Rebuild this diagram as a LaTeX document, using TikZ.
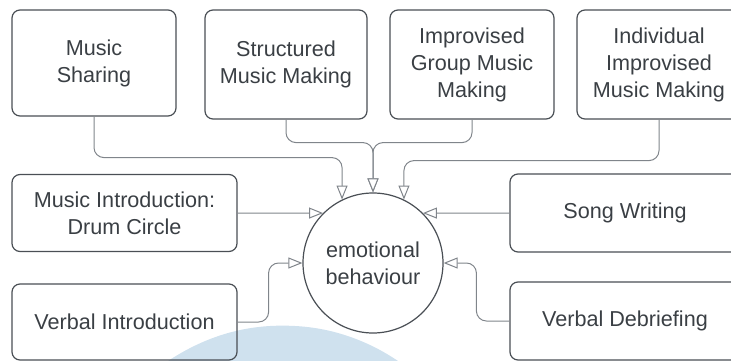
\documentclass[tikz,border=0pt]{standalone}
\usepackage{fontspec}
\setmainfont{Liberation Sans}
\usetikzlibrary{arrows.meta}
\definecolor{boxline}{HTML}{4A4F55}
\definecolor{linkline}{HTML}{80858B}
\definecolor{txt}{HTML}{3A3F44}
\definecolor{hill}{HTML}{CFE1EE}
\begin{document}
\begin{tikzpicture}[x=1pt,y=-1pt,
  box/.style={draw=boxline,line width=1.2pt,rounded corners=8pt,align=center,
    text=txt,font=\fontsize{21.6}{27}\selectfont,inner sep=0pt},
  link/.style={draw=linkline,line width=1pt,rounded corners=10pt,
    -{Triangle[open,length=14pt,width=11pt,fill=white]}}]
\useasboundingbox (0,0) rectangle (731,361);
% pale shape along the bottom
\fill[hill] (168,361) .. controls (215,330) and (258,324) .. (295,326)
  .. controls (335,328) and (370,342) .. (398,361) -- cycle;
% activities across the top
\node[box,minimum width=164pt,minimum height=106pt] (share) at (94,63) {Music\\Sharing};
\node[box,minimum width=162pt,minimum height=109pt] (struc) at (286,64.5) {Structured\\Music Making};
\node[box,minimum width=164pt,minimum height=109pt] (group) at (472,64.5) {Improvised\\Group Music\\Making};
\node[box,minimum width=164pt,minimum height=109pt] (indiv) at (659,64.5) {Individual\\Improvised\\Music Making};
% activities at the sides
\node[box,minimum width=225pt,minimum height=77pt] (drum) at (124.5,213) {Music Introduction:\\Drum Circle};
\node[box,minimum width=225pt,minimum height=76pt] (intro) at (124.5,322) {Verbal Introduction};
\node[box,minimum width=230pt,minimum height=78pt] (song) at (625,213) {Song Writing};
\node[box,minimum width=230pt,minimum height=78pt] (debrief) at (625,321) {Verbal Debriefing};
% centre
\node[box,circle,rounded corners=0pt,minimum size=140pt] (emo) at (373,263) {emotional\\behaviour};
% links into the centre
\draw[link] (share.south) -- ++(0,41) -| (emo.116);
\draw[link] (struc.south) -- ++(0,23) -| (emo.north);
\draw[link] (group.south) -- ++(0,23) -| (emo.north);
\draw[link] (indiv.south) -- ++(0,41) -| (emo.64);
\draw[link] (drum.east) -- (emo.135);
\draw[link] (song.west) -- (emo.45);
\draw[link] (intro.east) -- ++(31,0) |- (emo.west);
\draw[link] (debrief.west) -- ++(-33,0) |- (emo.east);
\end{tikzpicture}
\end{document}
